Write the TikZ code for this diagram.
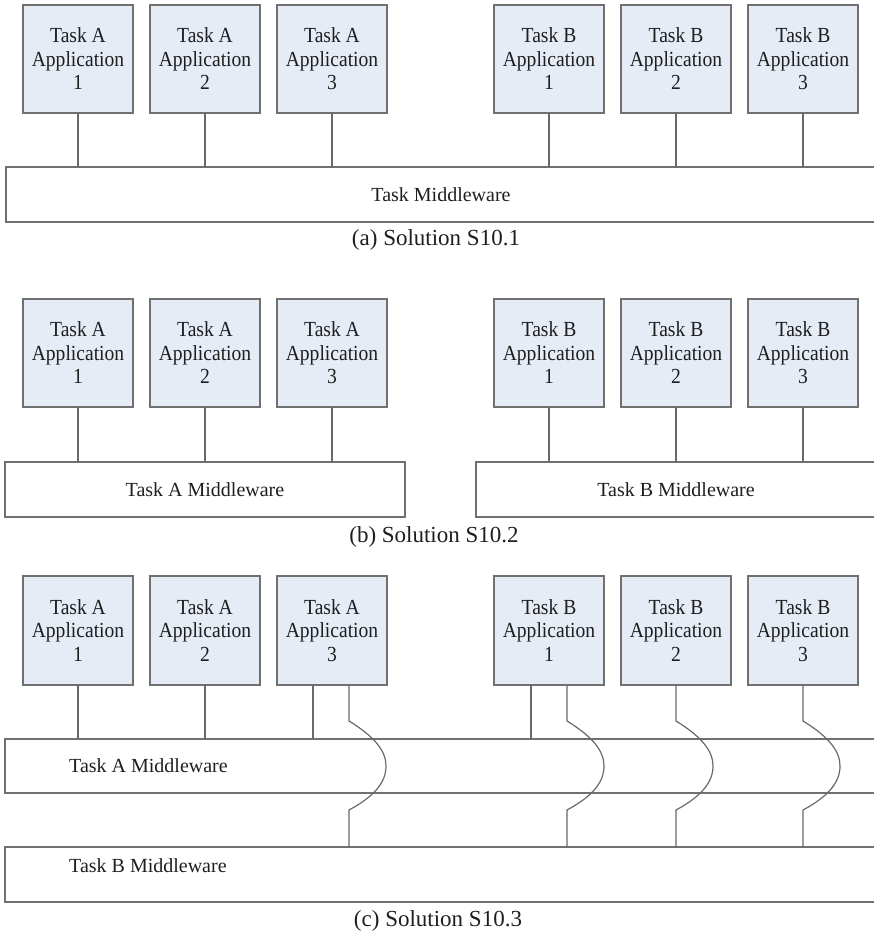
\documentclass[tikz,border=0pt]{standalone}
\usepackage{fontspec}
\setmainfont{Liberation Serif}
\newfontfamily\boxfont[FakeStretch=0.91]{Liberation Serif}
\usetikzlibrary{calc}
\definecolor{appfill}{RGB}{230,236,246}
\definecolor{edgegray}{RGB}{112,112,112}
\definecolor{linegray}{RGB}{105,105,105}
\definecolor{txt}{RGB}{30,30,30}
\tikzset{
  appbox/.style={draw=edgegray, fill=appfill, line width=1.6pt, minimum width=110pt,
    minimum height=108pt, inner sep=0pt, outer sep=0pt, align=center, text=txt,
    font=\boxfont\fontsize{21.5}{23.5}\selectfont},
  mwbox/.style={draw=edgegray, line width=1.6pt, inner sep=0pt, outer sep=0pt, text=txt,
    font=\fontsize{20}{23}\selectfont},
  mwlabel/.style={anchor=west, inner sep=0pt, text=txt, font=\fontsize{20}{23}\selectfont},
  caption/.style={inner sep=0pt, text=txt, font=\fontsize{23}{26}\selectfont},
  conn/.style={draw=linegray, line width=1.2pt}
}
\newcommand\hopline[2]{%
  \draw[conn] (#1) -- ($(#1)+(0,36)$)
    .. controls ($(#1)+(26,52)$) and ($(#1)+(37,66)$) .. ($(#1)+(37,81)$)
    .. controls ($(#1)+(37,97)$) and ($(#1)+(26,111)$) .. ($(#1)+(0,125)$)
    -- (#1 |- #2.north);}
\begin{document}
\begin{tikzpicture}[x=1pt,y=-1pt]
\clip (0,0) rectangle (874,936);
\useasboundingbox (0,0) rectangle (874,936);
% ---------- (a) ----------
\node[appbox] (a1) at (78,59)  {Task A\\Application\\1};
\node[appbox] (a2) at (205,59) {Task A\\Application\\2};
\node[appbox] (a3) at (332,59) {Task A\\Application\\3};
\node[appbox] (b1) at (549,59) {Task B\\Application\\1};
\node[appbox] (b2) at (676,59) {Task B\\Application\\2};
\node[appbox] (b3) at (803,59) {Task B\\Application\\3};
\node[mwbox, minimum width=870pt, minimum height=55pt] (mw) at (441,194.5) {Task Middleware};
\foreach \n in {a1,a2,a3,b1,b2,b3} \draw[conn] (\n.south) -- (\n.south |- mw.north);
\node[caption] (capa) at (436,240) {(a) Solution S10.1};
% ---------- (b) ----------
\node[appbox] (ba1) at (78,353)  {Task A\\Application\\1};
\node[appbox] (ba2) at (205,353) {Task A\\Application\\2};
\node[appbox] (ba3) at (332,353) {Task A\\Application\\3};
\node[appbox] (bb1) at (549,353) {Task B\\Application\\1};
\node[appbox] (bb2) at (676,353) {Task B\\Application\\2};
\node[appbox] (bb3) at (803,353) {Task B\\Application\\3};
\node[mwbox, minimum width=400pt, minimum height=55pt] (bmwa) at (205,489.5) {Task A Middleware};
\node[mwbox, minimum width=400pt, minimum height=55pt] (bmwb) at (676,489.5) {Task B Middleware};
\foreach \n in {ba1,ba2,ba3} \draw[conn] (\n.south) -- (\n.south |- bmwa.north);
\foreach \n in {bb1,bb2,bb3} \draw[conn] (\n.south) -- (\n.south |- bmwb.north);
\node[caption] (capb) at (434,537) {(b) Solution S10.2};
% ---------- (c) ----------
\node[appbox, minimum height=109pt] (ca1) at (78,630.5)  {Task A\\Application\\1};
\node[appbox, minimum height=109pt] (ca2) at (205,630.5) {Task A\\Application\\2};
\node[appbox, minimum height=109pt] (ca3) at (332,630.5) {Task A\\Application\\3};
\node[appbox, minimum height=109pt] (cb1) at (549,630.5) {Task B\\Application\\1};
\node[appbox, minimum height=109pt] (cb2) at (676,630.5) {Task B\\Application\\2};
\node[appbox, minimum height=109pt] (cb3) at (803,630.5) {Task B\\Application\\3};
\node[mwbox, minimum width=872pt, minimum height=54pt] (cmwa) at (441,766) {};
\node[mwbox, minimum width=872pt, minimum height=55pt] (cmwb) at (441,874.5) {};
\node[mwlabel] (cla) at (69,766) {Task A Middleware};
\node[mwlabel] (clb) at (69,866) {Task B Middleware};
% Task A connectors
\draw[conn] (ca1.south) -- (ca1.south |- cmwa.north);
\draw[conn] (ca2.south) -- (ca2.south |- cmwa.north);
\coordinate (ca3l) at ($(ca3.south)+(-19,0)$);
\coordinate (ca3r) at ($(ca3.south)+(17,0)$);
\draw[conn] (ca3l) -- (ca3l |- cmwa.north);
\hopline{ca3r}{cmwb}
% Task B connectors
\coordinate (cb1l) at ($(cb1.south)+(-18,0)$);
\coordinate (cb1r) at ($(cb1.south)+(18,0)$);
\draw[conn] (cb1l) -- (cb1l |- cmwa.north);
\hopline{cb1r}{cmwb}
\coordinate (cb2c) at (cb2.south);
\hopline{cb2c}{cmwb}
\coordinate (cb3c) at (cb3.south);
\hopline{cb3c}{cmwb}
\node[caption] (capc) at (438,921) {(c) Solution S10.3};
\end{tikzpicture}
\end{document}
